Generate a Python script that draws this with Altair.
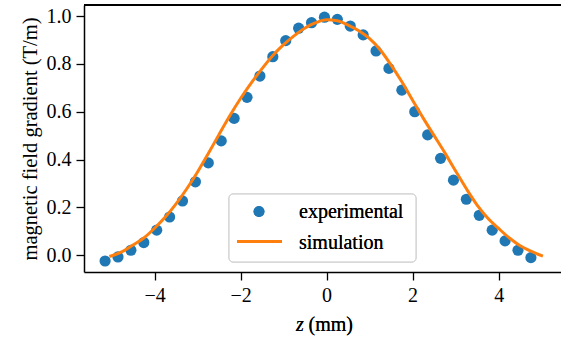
import altair as alt
import pandas as pd

# experimental data
exp_z = [-5.15, -4.85, -4.55, -4.25, -3.95, -3.65, -3.35, -3.05, -2.75, -2.45,
         -2.15, -1.85, -1.55, -1.25, -0.95, -0.65, -0.35, -0.05, 0.25, 0.55,
         0.85, 1.15, 1.45, 1.75, 2.05, 2.35, 2.65, 2.95, 3.25, 3.55,
         3.85, 4.15, 4.45, 4.75]
exp_g = [-0.024, -0.007, 0.021, 0.053, 0.105, 0.160, 0.227, 0.307, 0.386, 0.478,
         0.572, 0.660, 0.749, 0.830, 0.897, 0.949, 0.972, 0.995, 0.986, 0.958,
         0.921, 0.854, 0.781, 0.690, 0.600, 0.503, 0.405, 0.314, 0.234, 0.167,
         0.105, 0.060, 0.021, -0.010]

# simulation
sim_z = [-5.05, -4.75, -4.5, -4.25, -4.0, -3.75, -3.5, -3.25, -3.0, -2.75,
         -2.5, -2.25, -2.0, -1.75, -1.5, -1.25, -1.0, -0.75, -0.5, -0.25,
         0.0, 0.25, 0.5, 0.75, 1.0, 1.25, 1.5, 1.75, 2.0, 2.25,
         2.5, 2.75, 3.0, 3.25, 3.5, 3.75, 4.0, 4.25, 4.5, 4.75, 5.03]
sim_g = [-0.005, 0.015, 0.043, 0.072, 0.113, 0.160, 0.215, 0.278, 0.348, 0.425,
         0.505, 0.583, 0.655, 0.720, 0.780, 0.835, 0.880, 0.918, 0.950, 0.972,
         0.984, 0.980, 0.962, 0.938, 0.905, 0.858, 0.795, 0.725, 0.648, 0.572,
         0.500, 0.428, 0.352, 0.278, 0.210, 0.155, 0.112, 0.072, 0.040, 0.017, -0.004]

x_ticks = [-4, -2, 0, 2, 4]
y_ticks = [0.0, 0.2, 0.4, 0.6, 0.8, 1.0]
legend_labels = ["experimental", "simulation"]

BLUE = "#1f77b4"
ORANGE = "#ff7f0e"
FONT = "Liberation Serif"
W, H = 477, 267

exp_df = pd.DataFrame({"z": exp_z, "g": exp_g})
sim_df = pd.DataFrame({"z": sim_z, "g": sim_g})

xscale = alt.Scale(domain=[-5.64, 5.45], nice=False, zero=False)
yscale = alt.Scale(domain=[-0.070, 1.046], nice=False, zero=False)

xaxis = alt.Axis(values=x_ticks, format="d", title=None, grid=False)
yaxis = alt.Axis(values=y_ticks, format=".1f", title="magnetic field gradient (T/m)",
                 grid=False, titleFont=FONT, titleFontSize=20.5, titleFontWeight="normal",
                 titleColor="black", titlePadding=6)

points = alt.Chart(exp_df).mark_circle(size=125, color=BLUE, opacity=1).encode(
    x=alt.X("z:Q", scale=xscale, axis=xaxis),
    y=alt.Y("g:Q", scale=yscale, axis=yaxis),
)

line = alt.Chart(sim_df).mark_line(color=ORANGE, strokeWidth=3, interpolate="monotone").encode(
    x=alt.X("z:Q", scale=xscale),
    y=alt.Y("g:Q", scale=yscale),
)

# top spine
top = alt.Chart(exp_df).mark_rule(color="black", strokeWidth=1.5).encode(
    x=alt.value(0), x2=alt.value(W), y=alt.value(0)
)

# legend (manual)
leg_df = pd.DataFrame({"label": legend_labels})
leg_box = alt.Chart(leg_df).mark_rect(
    fill="white", fillOpacity=0.8, stroke="#cccccc", strokeWidth=1, cornerRadius=4
).encode(x=alt.value(145), x2=alt.value(332), y=alt.value(189), y2=alt.value(257))
leg_pt = alt.Chart(leg_df).mark_circle(size=120, color=BLUE, opacity=1).encode(
    x=alt.value(175), y=alt.value(206.5)
)
leg_ln = alt.Chart(leg_df).mark_rule(color=ORANGE, strokeWidth=3).encode(
    x=alt.value(153), x2=alt.value(198), y=alt.value(236.5)
)
leg_t1 = alt.Chart(leg_df).mark_text(
    text=legend_labels[0], font=FONT, fontSize=20, align="left", baseline="alphabetic", color="black"
).encode(x=alt.value(215), y=alt.value(212.5))
leg_t2 = alt.Chart(leg_df).mark_text(
    text=legend_labels[1], font=FONT, fontSize=20, align="left", baseline="alphabetic", color="black"
).encode(x=alt.value(215), y=alt.value(243.5))

# x axis title with italic z
xt1 = alt.Chart(leg_df).mark_text(
    text="z", font=FONT, fontSize=20, fontStyle="italic", align="left", baseline="alphabetic", color="black"
).encode(x=alt.value(212), y=alt.value(326))
xt2 = alt.Chart(leg_df).mark_text(
    text="(mm)", font=FONT, fontSize=20, align="left", baseline="alphabetic", color="black"
).encode(x=alt.value(224.5), y=alt.value(326))

chart = alt.layer(points, line, top, leg_box, leg_pt, leg_ln, leg_t1, leg_t2, xt1, xt2).properties(
    width=W, height=H,
    autosize=alt.AutoSizeParams(type="none"),
    padding={"left": 84, "top": 5, "right": 0, "bottom": 67},
    background="white",
).configure_view(strokeWidth=0).configure_axis(
    domainColor="black", domainWidth=1.5, tickColor="black", tickWidth=1.3, tickSize=8,
    labelFont=FONT, labelFontSize=20, labelColor="black", labelPadding=5,
)

chart.save("out.html", embed_options={"renderer": "svg", "actions": False})
